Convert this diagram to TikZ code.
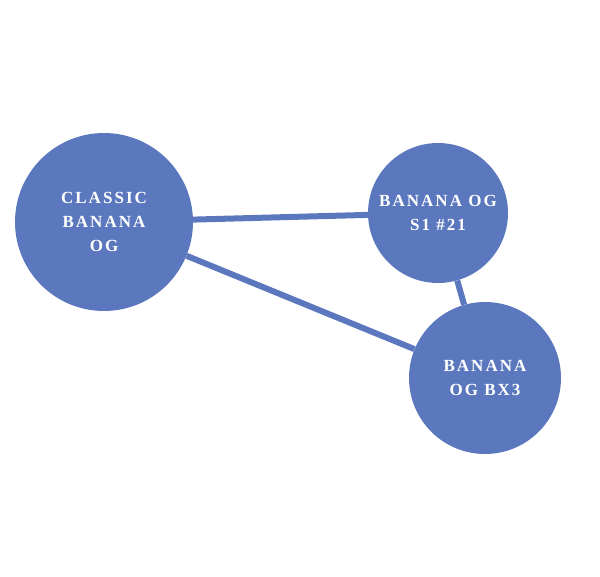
\documentclass[tikz,border=0pt]{standalone}
\usepackage{fontspec}
\setmainfont{Liberation Serif}
\usetikzlibrary{positioning}
\definecolor{bananablue}{HTML}{5B78BE}
\begin{document}
\begin{tikzpicture}[
    x=1pt, y=-1pt,
    every node/.style={circle, fill=bananablue, text=white, align=center,
        font=\addfontfeatures{LetterSpace=12}\bfseries\fontsize{17}{24}\selectfont},
    link/.style={draw=bananablue, line width=6pt}
]
    \useasboundingbox (0,0) rectangle (600,576);

    % Varieties
    \node[minimum size=178pt] (classic) at (104,222) {CLASSIC\\BANANA\\OG};
    \node[minimum size=140pt] (sone) at (438,213) {BANANA OG\\S1 \#21};
    \node[minimum size=152pt] (bxthree) at (485,378) {BANANA\\OG BX3};

    % Links
    \begin{scope}[on background layer/.try]
    \end{scope}
    \draw[link] (classic) -- (sone);
    \draw[link] (classic) -- (bxthree);
    \draw[link] (sone) -- (bxthree);
\end{tikzpicture}
\end{document}
